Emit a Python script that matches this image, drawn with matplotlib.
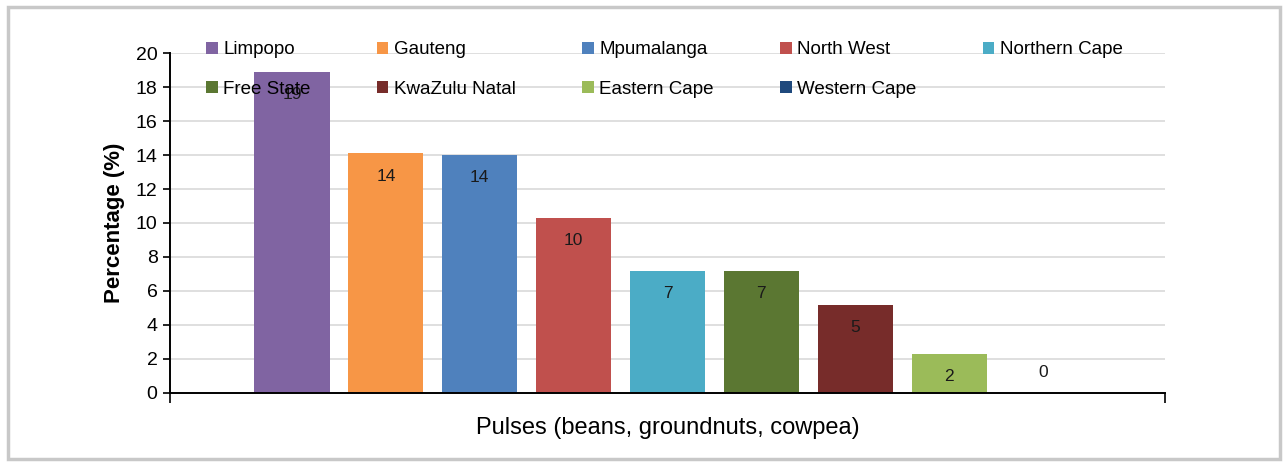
import matplotlib.pyplot as plt
from matplotlib.patches import Rectangle, Patch

provinces = ['Limpopo', 'Gauteng', 'Mpumalanga', 'North West', 'Northern Cape',
             'Free State', 'KwaZulu Natal', 'Eastern Cape', 'Western Cape']
values = [18.9, 14.1, 14.0, 10.3, 7.2, 7.2, 5.2, 2.3, 0.0]
labels = ['19', '14', '14', '10', '7', '7', '5', '2', '0']
colors = ['#8064A2', '#F79646', '#4F81BD', '#C0504D', '#4BACC6',
          '#5B7732', '#772C2A', '#9BBB59', '#1F497D']

plt.rcParams['font.family'] = ['Liberation Sans Narrow', 'Liberation Sans', 'DejaVu Sans']

fig = plt.figure(figsize=(12.88, 4.66), dpi=100)
fig.patches.append(Rectangle((0.006, 0.015), 0.988, 0.97, transform=fig.transFigure,
                             fill=False, edgecolor='#C8C8C8', linewidth=2.5))
ax = fig.add_axes([0.132, 0.157, 0.7725, 0.729])

x = list(range(len(values)))
ax.bar(x, values, width=0.8, color=colors, zorder=2)
for xi, v, lab in zip(x, values, labels):
    y = v - 1.35 if v > 1.5 else v + 1.2
    ax.text(xi, y, lab, ha='center', va='center', fontsize=12.5, color='#1a1a1a', zorder=3)

ax.set_xlim(-1.3, 9.3)
ax.set_ylim(0, 20)
ax.set_yticks(range(0, 21, 2))
ax.set_xticks([-1.3, 9.3])
ax.set_xticklabels([])
ax.tick_params(axis='x', direction='out', length=7, width=1.2)
ax.tick_params(axis='y', direction='out', length=5, width=1.2, labelsize=14, pad=4)
ax.grid(axis='y', color='#D9D9D9', linewidth=1.2, zorder=0)
for s in ['top', 'right']:
    ax.spines[s].set_visible(False)
ax.spines['left'].set_linewidth(1.4)
ax.spines['bottom'].set_linewidth(1.4)

ax.set_ylabel('Percentage (%)', fontsize=16, fontweight='bold', labelpad=8)
ax.set_xlabel('Pulses (beans, groundnuts, cowpea)', fontsize=17, labelpad=7)

# legend is filled column by column, so interleave the two rows
handles = [Patch(facecolor=c, label=p) for p, c in zip(provinces, colors)]
order = [0, 5, 1, 6, 2, 7, 3, 8, 4]
handles = [handles[i] for i in order]
ax.legend(handles=handles, ncol=5, loc='upper left', bbox_to_anchor=(0.027, 1.062),
          frameon=False, fontsize=13.5, handlelength=0.6, handleheight=0.6,
          handletextpad=0.3, columnspacing=3.55, labelspacing=1.2, borderpad=0)

fig.savefig('out.png', dpi=100)
